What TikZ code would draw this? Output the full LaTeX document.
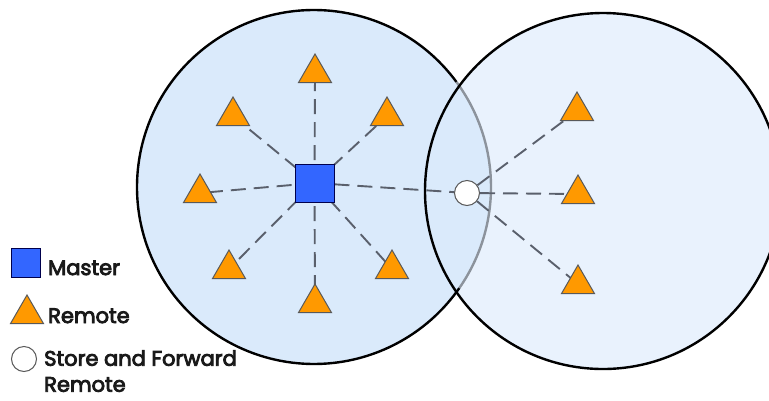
\documentclass[tikz,border=0pt]{standalone}
\usepackage{fontspec}
\setmainfont{Poppins}[FakeBold=4]
\usetikzlibrary{shapes.geometric}
\pgfdeclarelayer{bg}
\pgfdeclarelayer{lines}
\pgfsetlayers{bg,lines,main}
\definecolor{leftfill}{HTML}{DAEAFB}
\definecolor{rightfill}{HTML}{E9F2FD}
\definecolor{lensline}{HTML}{8C939C}
\definecolor{masterblue}{HTML}{3366FF}
\definecolor{remoteorange}{HTML}{FF9900}
\definecolor{dashgrey}{HTML}{5A606C}
\tikzset{
  zone/.style={draw=black, line width=2.4pt},
  master/.style={rectangle, draw=black!70!blue, line width=1pt, fill=masterblue, minimum width=39pt, minimum height=38pt, inner sep=0pt},
  remote/.style={regular polygon, regular polygon sides=3, draw=black!65, line width=1pt, fill=remoteorange, minimum size=38pt, inner sep=0pt},
  sfr/.style={circle, draw=black!65, line width=1pt, fill=white, minimum size=25pt, inner sep=0pt},
  link/.style={draw=dashgrey, line width=1.9pt, dash pattern=on 15pt off 8pt},
  legtext/.style={anchor=base west, inner sep=0pt, font=\fontsize{21}{26}\selectfont, text=black!90},
}
\begin{document}
\begin{tikzpicture}[x=1pt,y=-1pt]
\useasboundingbox (0,0) rectangle (769,400);
% nodes
\node[master] (m) at (314.5,183) {};
\node[remote] (t1) at (315,73) {};
\node[remote] (t2) at (233,116) {};
\node[remote] (t3) at (387,116) {};
\node[remote] (t4) at (200,193) {};
\node[remote] (t5) at (229,269) {};
\node[remote] (t6) at (392,269) {};
\node[remote] (t7) at (315,303) {};
\node[sfr] (s) at (467,193) {};
\node[remote] (r1) at (577,111) {};
\node[remote] (r2) at (578,194) {};
\node[remote] (r3) at (578,284) {};
% legend
\node[master, minimum width=29pt, minimum height=29pt] (lm) at (25.5,262.5) {};
\node[legtext] (lmt) at (48,275) {Master};
\node[remote] (lr) at (27,314) {};
\node[legtext] (lrt) at (48,323) {Remote};
\node[sfr] (ls) at (24,359) {};
\node[legtext, align=left, anchor=north west] (lst) at (44,350) {Store and Forward\\Remote};
% zones
\begin{pgfonlayer}{bg}
  \coordinate (cl) at (314,187);
  \coordinate (cr) at (603,191);
  \fill[rightfill] (cr) circle[radius=178pt];
  \fill[leftfill] (cl) circle[radius=177pt];
  \draw[zone] ([shift={(36.4:177pt)}]cl) arc[start angle=36.4, end angle=325.2, radius=177pt];
  \draw[zone, draw=lensline] ([shift={(-34.8:177pt)}]cl) arc[start angle=-34.8, end angle=36.4, radius=177pt];
  \draw[zone] (cr) circle[radius=178pt];
\end{pgfonlayer}
% links
\begin{pgfonlayer}{lines}
  \foreach \t in {t1,t2,t3,t4,t5,t6,t7} \draw[link] (m.center) -- (\t.center);
  \draw[link] (m) -- (s);
  \foreach \r in {r1,r2,r3} \draw[link] (s) -- (\r.center);
\end{pgfonlayer}
\end{tikzpicture}
\end{document}
